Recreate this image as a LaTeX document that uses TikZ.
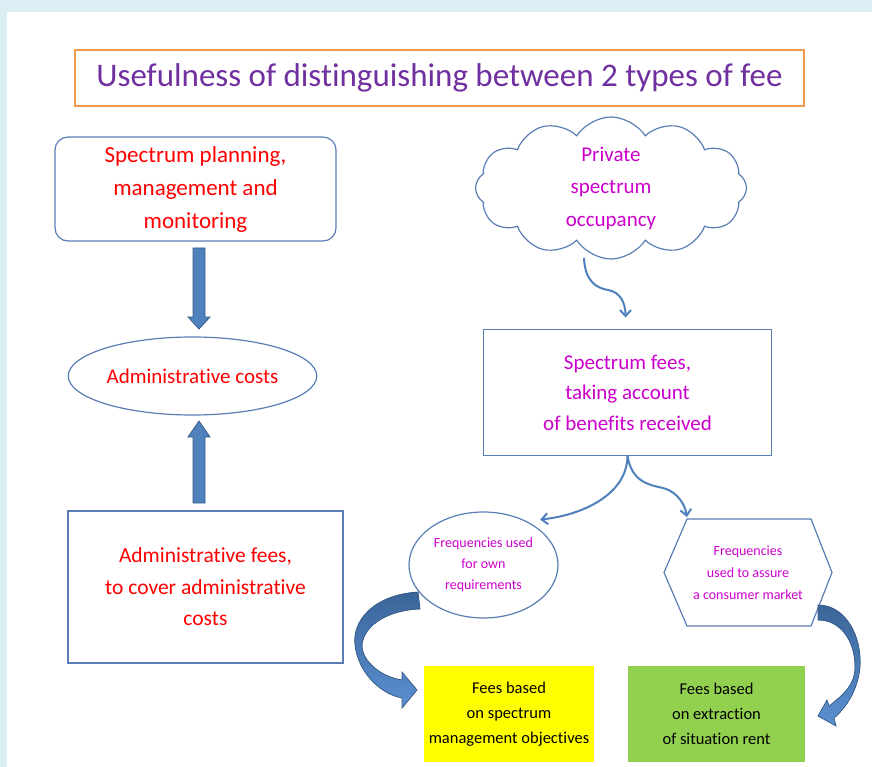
\documentclass[tikz,border=0pt]{standalone}
\usepackage{fontspec}
\setmainfont{Carlito}[Ligatures=NoCommon]
\usetikzlibrary{shapes.geometric,shapes.symbols,arrows.meta,calc}

\definecolor{pagebg}{HTML}{DBEEF4}
\definecolor{frameorange}{HTML}{F39A4E}
\definecolor{titlepurple}{HTML}{7030A0}
\definecolor{edgeblue}{HTML}{5B7DB5}
\definecolor{txtred}{HTML}{FF0000}
\definecolor{txtmag}{HTML}{CC00CC}
\definecolor{boxyellow}{HTML}{FFFF00}
\definecolor{boxgreen}{HTML}{92D050}
\definecolor{arrowfill}{HTML}{4F81BD}
\definecolor{arrowedge}{HTML}{385D8A}
\definecolor{arrowdark}{HTML}{3A6599}
\definecolor{arrowlight}{HTML}{5B90D2}

\begin{document}
\begin{tikzpicture}[x=1pt,y=-1pt,
  every node/.style={inner sep=2pt,outer sep=0pt,align=center},
  titlebox/.style={draw=frameorange,line width=1.3pt,minimum width=729pt,minimum height=56pt,
    text=titlepurple,font=\fontsize{33}{38}\selectfont},
  plainbox/.style={draw=edgeblue,line width=1.2pt},
  roundbox/.style={plainbox,rounded corners=13pt},
  ovalbox/.style={plainbox,ellipse},
  redtext/.style={text=txtred},
  magtext/.style={text=txtmag},
  filledbox/.style={minimum width=#1,minimum height=96pt,text=black,
    font=\fontsize{16.5}{25}\selectfont},
  blockarrow/.style={fill=arrowfill,draw=arrowedge,line width=0.8pt},
  curvedarrow/.style={top color=arrowdark,bottom color=arrowlight,draw=arrowedge,line width=0.7pt},
  thinarrow/.style={draw=arrowfill,line width=2pt,-{Straight Barb[length=6pt,width=11pt,line width=2pt]}}
]
\useasboundingbox (0,0) rectangle (872,767);
% page background with its light blue frame
\fill[pagebg] (0,0) rectangle (872,767);
\fill[white] (7,12) rectangle (872,767);

% heading
\node[titlebox] (title) at (439.5,78) {Usefulness of distinguishing between 2 types of fee};

% left column: administrative side
\node[roundbox,redtext,minimum width=281pt,minimum height=104pt,
  font=\fontsize{23}{33}\selectfont] (plan) at (195.5,189)
  {Spectrum planning,\\management and\\monitoring};
\node[ovalbox,redtext,minimum width=235pt,minimum height=78pt,
  font=\fontsize{21}{26}\selectfont] (admc) at (192.5,376) {Administrative costs};
\node[plainbox,redtext,minimum width=275pt,minimum height=152pt,
  font=\fontsize{21.5}{31.5}\selectfont] (admf) at (205.5,587)
  {Administrative fees,\\to cover administrative\\costs};

% right column: spectrum fees side
\node[cloud,cloud puffs=12,cloud puff arc=115,cloud ignores aspect,draw=edgeblue,line width=1.2pt,
  magtext,minimum width=271pt,minimum height=142pt,
  font=\fontsize{21}{32.5}\selectfont] (occ) at (611,188)
  {Private\\spectrum\\occupancy};
\node[plainbox,magtext,minimum width=288pt,minimum height=126pt,
  font=\fontsize{21}{30.5}\selectfont] (sfee) at (627.5,392.5)
  {Spectrum fees,\\taking account\\of benefits received};
\node[ovalbox,magtext,minimum width=149pt,minimum height=106pt,
  font=\fontsize{14}{21}\selectfont] (own) at (483.5,565)
  {Frequencies used\\for own\\requirements};
\node[magtext,minimum width=168pt,minimum height=107pt,
  font=\fontsize{14}{22}\selectfont] (mkt) at (748,572.5)
  {Frequencies\\used to assure\\a consumer market};
\draw[plainbox] (mkt.west) -- ($(mkt.north west)+(23,0)$) -- ($(mkt.north east)+(-21,0)$)
  -- (mkt.east) -- ($(mkt.south east)+(-21,0)$) -- ($(mkt.south west)+(23,0)$) -- cycle;

\node[fill=boxyellow,filledbox=170pt] (yfee) at (509,714)
  {Fees based\\on spectrum\\management objectives};
\node[fill=boxgreen,filledbox=177pt] (gfee) at (716.5,714)
  {Fees based\\on extraction\\of situation rent};

% straight block arrows
\coordinate (dA) at ($(plan.south)+(3.5,7)$);
\coordinate (dB) at ($(admc.north)+(6.5,-8)$);
\filldraw[blockarrow] ($(dA)+(-6,0)$) -- ($(dB)+(-6,-12)$) -- ($(dB)+(-11,-12)$) -- (dB)
  -- ($(dB)+(11,-12)$) -- ($(dB)+(6,-12)$) -- ($(dA)+(6,0)$) -- cycle;
\coordinate (uA) at ($(admf.north)+(-6.5,-8)$);
\coordinate (uB) at ($(admc.south)+(6.5,6)$);
\filldraw[blockarrow] ($(uA)+(-6,0)$) -- ($(uB)+(-6,16)$) -- ($(uB)+(-11,16)$) -- (uB)
  -- ($(uB)+(11,16)$) -- ($(uB)+(6,16)$) -- ($(uA)+(6,0)$) -- cycle;

% thin curved connectors
\draw[thinarrow] ($(occ.south)+(-27,-1)$) .. controls +(1,23) and +(-12,-2) .. (608,290)
  .. controls +(12,2) and +(0,-15) .. ($(sfee.north)+(-2,-12)$);
\draw[thinarrow] (sfee.south) .. controls +(0,40) and +(40,-4) .. ($(own.north east)+(4,-8)$);
\draw[thinarrow] (sfee.south) .. controls +(4,27) and +(-13,-3) .. (663,488)
  .. controls +(15,4) and +(-2,-12) .. ($(mkt.north west)+(23,-2)$);

% curved block arrows to the two kinds of fee
\filldraw[curvedarrow] (418,592) .. controls (372,595) and (352,622) .. (355,645)
  .. controls (358,672) and (380,694) .. (402,698) -- (402,708) -- (417,690) -- (402,672)
  -- (402,680) .. controls (382,677) and (362,662) .. (362,645)
  .. controls (364,624) and (390,610) .. (420,609) -- cycle;
\filldraw[curvedarrow] (818,605) .. controls (845,605) and (862,635) .. (860,667)
  .. controls (858,690) and (846,708) .. (834,718) -- (836,726) -- (818,716) -- (827,700)
  -- (829,706) .. controls (843,695) and (855,685) .. (855,667)
  .. controls (855,640) and (840,620) .. (818,620) -- cycle;
\end{tikzpicture}
\end{document}
